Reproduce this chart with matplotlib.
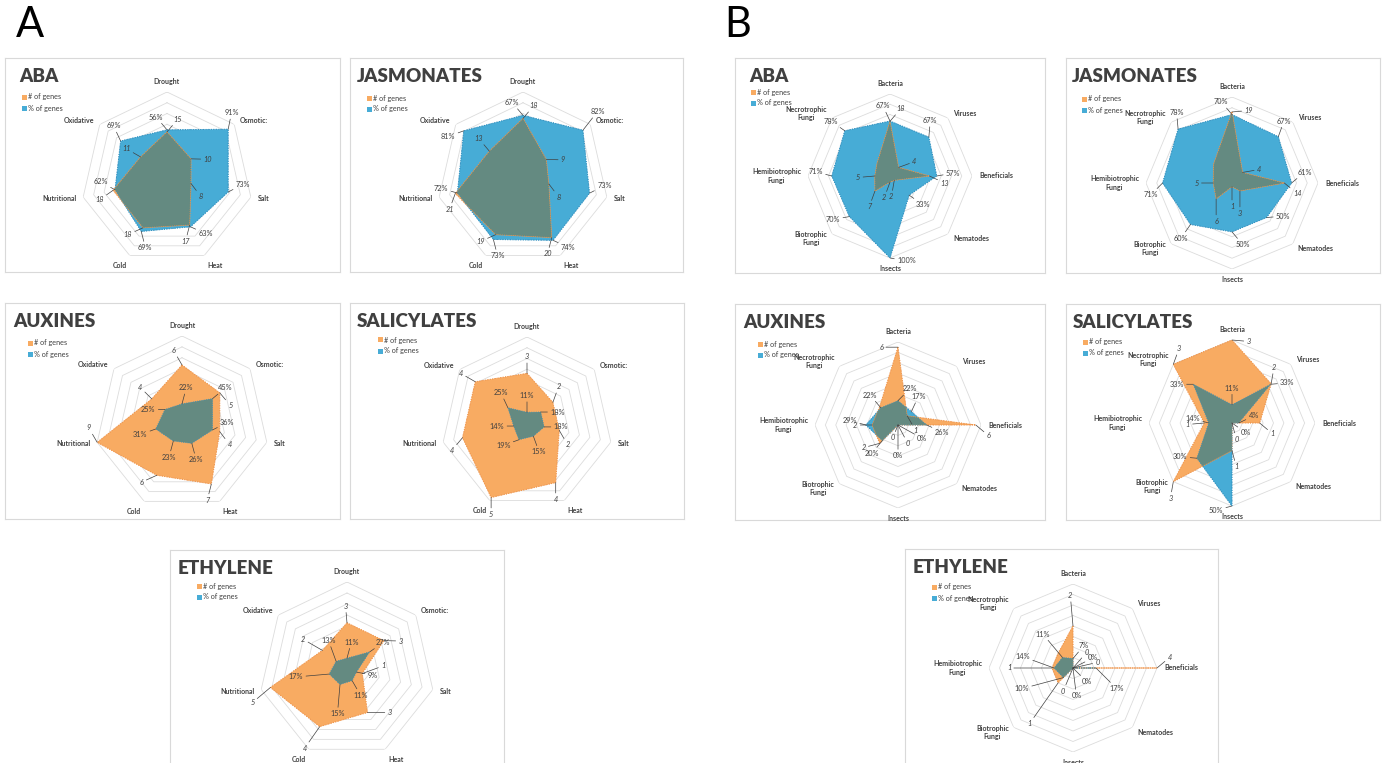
import numpy as np
import matplotlib.pyplot as plt
from matplotlib.patches import Rectangle

plt.rcParams['font.family'] = ['Lato', 'DejaVu Sans']

W, H = 1386, 763
BLUE, BLUE_EDGE = '#47acd6', '#2f8fbf'
ORANGE, ORANGE_EDGE = '#f8ab62', '#f0944a'
GREY = '#648a81'
TXT = '#404040'

abiotic = ['Drought', 'Osmotic:', 'Salt', 'Heat', 'Cold', 'Nutritional', 'Oxidative']
biotic = ['Bacteria', 'Viruses', 'Beneficials', 'Nematodes', 'Insects',
          'Biotrophic\nFungi', 'Hemibiotrophic\nFungi', 'Necrotrophic\nFungi']

# abiotic stress: number of genes / % of genes per hormone
aba_a_n = [15, 10, 8, 17, 18, 18, 11]
aba_a_pct = [56, 91, 73, 63, 69, 62, 69]
ja_a_n = [18, 9, 8, 20, 19, 21, 13]
ja_a_pct = [67, 82, 73, 74, 73, 72, 81]
aux_a_n = [6, 5, 4, 7, 6, 9, 4]
aux_a_pct = [22, 45, 36, 26, 23, 31, 25]
sa_a_n = [3, 2, 2, 4, 5, 4, 4]
sa_a_pct = [11, 18, 18, 15, 19, 14, 25]
et_a_n = [3, 3, 1, 3, 4, 5, 2]
et_a_pct = [11, 27, 9, 11, 15, 17, 13]

# biotic stress
aba_b_n = [18, 4, 13, 2, 2, 7, 5, 6]
aba_b_pct = [67, 67, 57, 33, 100, 70, 71, 78]
ja_b_n = [19, 4, 14, 3, 1, 6, 5, 7]
ja_b_pct = [70, 67, 61, 50, 50, 60, 71, 78]
aux_b_n = [6, 1, 6, 0, 0, 2, 2, 2]
aux_b_pct = [22, 17, 26, 0, 0, 20, 29, 22]
sa_b_n = [3, 2, 1, 0, 1, 3, 1, 3]
sa_b_pct = [11, 33, 4, 0, 50, 30, 14, 33]
et_b_n = [2, 0, 4, 0, 0, 1, 1, 1]
et_b_pct = [7, 0, 17, 0, 0, 10, 14, 11]

# label placement: ('n'|'p', index) -> direction in degrees clockwise from up,
# optionally (direction, leader length in points)
aba_a_lab = {('n', 5): 235, ('p', 5): 300, ('n', 6): 300, ('p', 6): 335}
ja_a_lab = {('n', 6): 320, ('p', 6): 250, ('n', 5): 200, ('p', 5): 285, ('p', 1): (38, 17)}
aux_a_lab = {('n', 0): 330, ('n', 1): 140, ('p', 1): 50, ('p', 3): 165, ('p', 4): 195,
             ('n', 5): 330, ('p', 5): 250, ('n', 6): 315, ('p', 0): 15}
sa_a_lab = {('n', 0): 0, ('p', 0): 0, ('n', 1): 20, ('p', 1): 90, ('n', 2): 150, ('p', 2): 90,
            ('n', 3): 180, ('p', 3): 160, ('n', 4): 180, ('p', 4): 250, ('n', 5): 220,
            ('p', 5): 270, ('n', 6): 300, ('p', 6): 335}
et_a_lab = {('n', 0): 355, ('p', 0): 15, ('p', 1): 55, ('n', 2): (70, 16), ('p', 2): 100,
            ('n', 3): (90, 16), ('p', 3): 150, ('n', 4): (215, 19), ('p', 4): (185, 21),
            ('n', 5): (230, 17), ('p', 5): (265, 24), ('n', 6): (300, 16), ('p', 6): (340, 16)}
aba_b_lab = {('p', 0): 335, ('n', 1): 70, ('n', 2): 115, ('p', 2): 80, ('n', 3): 190,
             ('p', 3): 125, ('n', 4): 200, ('p', 4): 100, ('n', 5): 200, ('p', 5): 260,
             ('n', 6): 265, ('p', 6): 285, ('p', 7): 305}
ja_b_lab = {('n', 0): 85, ('n', 1): 80, ('p', 1): 20, ('n', 3): (180, 16), ('p', 3): 85,
            ('n', 4): (180, 14), ('n', 5): (180, 16), ('p', 5): 215, ('n', 6): 270,
            ('p', 6): 225, ('p', 7): 355}
aux_b_lab = {('n', 0): 270, ('p', 0): 45, ('n', 1): 150, ('p', 1): 25, ('p', 2): 115,
             ('n', 3): (152, 15), ('p', 3): (119, 20), ('n', 4): (202, 10), ('p', 4): (180, 22),
             ('n', 5): 255, ('p', 5): 220, ('n', 6): 270, ('p', 6): 285, ('p', 7): 320}
sa_b_lab = {('n', 0): 95, ('p', 0): 0, ('n', 1): 10, ('p', 1): 85, ('p', 2): 65,
            ('n', 3): 165, ('p', 3): 125, ('n', 4): 165, ('p', 4): 255, ('n', 5): 190,
            ('p', 5): 275, ('n', 6): 265, ('p', 6): 285, ('n', 7): 20, ('p', 7): 270}
et_b_lab = {('n', 0): (355, 22), ('p', 0): 40, ('n', 1): (41, 15), ('p', 1): (63, 16),
            ('n', 2): 50, ('p', 2): (135, 21), ('n', 3): (77, 18), ('p', 3): (135, 14),
            ('n', 4): (203, 18), ('p', 4): (173, 20), ('n', 5): (215, 36), ('p', 5): (255, 31),
            ('n', 6): (270, 31), ('p', 6): (290, 24), ('p', 7): (320, 22)}

# title, categories, counts, percents, count axis max, % axis max,
# box (px), radar centre (px), radius (px), title dx, legend (dx, dy), unlabeled counts, labels
panels = [
    ('ABA', abiotic, aba_a_n, aba_a_pct, 28, 100, (5, 58, 340, 272), (167, 178), 86, 14, (17, 39), (), aba_a_lab),
    ('JASMONATES', abiotic, ja_a_n, ja_a_pct, 26, 92, (350, 58, 683, 272), (523, 178), 86, 7, (17, 40), (), ja_a_lab),
    ('AUXINES', abiotic, aux_a_n, aux_a_pct, 9, 100, (5, 303, 340, 519), (182, 423), 87, 8, (23, 40), (), aux_a_lab),
    ('SALICYLATES', abiotic, sa_a_n, sa_a_pct, 5.2, 88, (350, 303, 684, 519), (527, 423), 86, 7, (28, 37), (), sa_a_lab),
    ('ETHYLENE', abiotic, et_a_n, et_a_pct, 5.6, 82, (170, 550, 504, 780), (347, 670), 88, 8, (27, 36), (), et_a_lab),
    ('ABA', biotic, aba_b_n, aba_b_pct, 27, 100, (735, 58, 1045, 273), (890, 176), 82, 14, (16, 34), (7,), aba_b_lab),
    ('JASMONATES', biotic, ja_b_n, ja_b_pct, 23, 88, (1066, 58, 1380, 273), (1232, 183), 86, 6, (16, 41), (7,), ja_b_lab),
    ('AUXINES', biotic, aux_b_n, aux_b_pct, 6.4, 75, (735, 304, 1045, 520), (898, 425), 83, 8, (23, 40), (7,), aux_b_lab),
    ('SALICYLATES', biotic, sa_b_n, sa_b_pct, 3, 50, (1066, 304, 1380, 520), (1232, 423), 83, 7, (17, 38), (), sa_b_lab),
    ('ETHYLENE', biotic, et_b_n, et_b_pct, 4, 62, (905, 549, 1218, 780), (1073, 668), 84, 8, (27, 38), (7,), et_b_lab),
]

fig = plt.figure(figsize=(W / 100, H / 100), dpi=100)


def fx(x):
    return x / W


def fy(y):
    return 1 - y / H


def radar(title, cats, n, pct, nmax, pmax, box, center, rad, tdx, leg, hide_n, lab):
    bx0, by0, bx1, by1 = box
    axb = fig.add_axes([fx(bx0), fy(by1), fx(bx1 - bx0), (by1 - by0) / H])
    axb.set_xticks([])
    axb.set_yticks([])
    for s in axb.spines.values():
        s.set_color('#d9d9d9')
        s.set_linewidth(0.8)

    fig.text(fx(bx0 + tdx), fy(by0 + 10), title, fontsize=13.5, fontweight='heavy',
             color=TXT, va='top', ha='left')
    lx, ly = leg
    for k, (name, col) in enumerate([('# of genes', ORANGE), ('% of genes', BLUE)]):
        yy = by0 + ly + k * 11
        fig.add_artist(Rectangle((fx(bx0 + lx), fy(yy + 2.5)), 5 / W, 5 / H,
                                 transform=fig.transFigure, facecolor=col, edgecolor='none'))
        fig.text(fx(bx0 + lx + 6), fy(yy), name, fontsize=5.2, color=TXT, va='center', ha='left')

    cx, cy = center
    rect = [fx(cx - rad), fy(cy + rad), 2 * rad / W, 2 * rad / H]
    axp = fig.add_axes(rect, projection='polar')
    axn = fig.add_axes(rect, projection='polar')
    theta = np.linspace(0, 2 * np.pi, len(cats), endpoint=False)
    tt = np.append(theta, theta[0])
    for ax, top in ((axp, pmax), (axn, nmax)):
        ax.set_theta_zero_location('N')
        ax.set_theta_direction(-1)
        ax.set_ylim(0, top)
        ax.set_xticks([])
        ax.set_yticks([])
        ax.grid(False)
        ax.spines['polar'].set_visible(False)
        ax.patch.set_alpha(0)

    # polygon grid rings
    for k in range(1, 9):
        axp.plot(tt, np.full(len(tt), pmax * k / 8), color='#dcdcdc', lw=0.6, zorder=0)

    pv = np.append(pct, pct[0])
    nv = np.append(n, n[0])
    blue = axp.fill(tt, pv, facecolor=BLUE, edgecolor=BLUE_EDGE, lw=0.7, ls=':', zorder=2)[0]
    axn.fill(tt, nv, facecolor=ORANGE, edgecolor=ORANGE_EDGE, lw=0.7, ls=':', zorder=2)
    both = axn.fill(tt, nv, facecolor=GREY, edgecolor='none', zorder=3)[0]
    both.set_clip_path(blue)
    axn.plot(tt, nv, color=ORANGE_EDGE, lw=0.6, ls=':', zorder=4)
    axn.plot(tt, pv, color=BLUE_EDGE, lw=0.6, ls=':', zorder=4, transform=axp.transData)

    # axis category labels
    for t, cat in zip(theta, cats):
        s, c = np.sin(t), np.cos(t)
        ha = 'left' if s > 0.1 else ('right' if s < -0.1 else 'center')
        va = 'bottom' if c > 0.85 else ('top' if c < -0.85 else 'center')
        axp.annotate(cat, xy=(t, pmax), xytext=(5 * s, 5 * c), textcoords='offset points',
                     ha=ha, va=va, fontsize=5, fontweight='bold', color=TXT,
                     multialignment='center', annotation_clip=False)

    # data labels with leader lines, all drawn in the top axes
    lead = dict(arrowstyle='-', color=TXT, lw=0.5, shrinkA=0, shrinkB=0)
    for i, t in enumerate(theta):
        for key, v, txt, style, sign, trans in (('n', n[i], f'{n[i]}', 'italic', 1, axn.transData),
                                                ('p', pct[i], f'{pct[i]}%', 'normal', -1, axp.transData)):
            if key == 'n' and i in hide_n:
                continue
            ang, length = np.degrees(t) + sign * 40, 12
            spec = lab.get((key, i))
            if isinstance(spec, tuple):
                ang, length = spec
            elif spec is not None:
                ang = spec
            phi = np.radians(ang)
            axn.annotate(txt, xy=(t, v), xycoords=trans,
                         xytext=(length * np.sin(phi), length * np.cos(phi)),
                         textcoords='offset points', ha='center', va='center',
                         fontsize=5.3, style=style, color=TXT, arrowprops=lead,
                         annotation_clip=False, zorder=6)


for p in panels:
    radar(*p)

fig.text(fx(16), fy(6), 'A', fontsize=30, color='black', va='top', ha='left')
fig.text(fx(724), fy(6), 'B', fontsize=30, color='black', va='top', ha='left')

fig.savefig('out.png', dpi=100, facecolor='white')
